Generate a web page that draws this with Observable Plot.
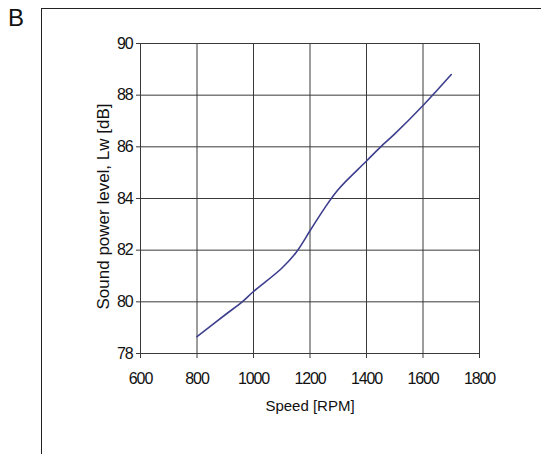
<!DOCTYPE html>
<html>
<head>
<meta charset="utf-8">
<script src="https://cdn.jsdelivr.net/npm/d3@7"></script>
<script src="https://cdn.jsdelivr.net/npm/@observablehq/plot@0.6"></script>
<style>
  html, body { margin: 0; padding: 0; background: #fff; }
  #wrap { position: relative; width: 541px; height: 454px; overflow: hidden; background: #fff; }
  #panel { position: absolute; left: 8px; top: 4px; font-family: "Liberation Sans", Arial, sans-serif; font-size: 24px; color: #111; }
  #box { position: absolute; left: 41px; top: 8px; right: -5px; bottom: -5px; border-top: 1.5px solid #222; border-left: 1.5px solid #222; }
  #chart { position: absolute; left: 0; top: 0; }
</style>
</head>
<body>
<div id="wrap">
  <div id="box"></div>
  <div id="panel">B</div>
  <div id="chart"></div>
</div>
<script>
const speedRPM = [800, 900, 960, 1000, 1100, 1150, 1200, 1250, 1300, 1400, 1450, 1500, 1600, 1700];
const soundLw  = [78.65, 79.5, 80.0, 80.4, 81.3, 81.9, 82.75, 83.6, 84.35, 85.45, 86.0, 86.5, 87.6, 88.8];
const xTicks = [600, 800, 1000, 1200, 1400, 1600, 1800];
const yTicks = [78, 80, 82, 84, 86, 88, 90];
const xTitle = "Speed [RPM]";
const yTitle = "Sound power level, Lw [dB]";

const data = speedRPM.map((s, i) => ({speed: s, lw: soundLw[i]}));

const chart = Plot.plot({
  width: 541,
  height: 454,
  marginLeft: 140,
  marginRight: 62,
  marginTop: 43,
  marginBottom: 101,
  style: {fontFamily: "'Liberation Sans', Arial, sans-serif", fontSize: "16px", color: "#111", background: "transparent"},
  x: {domain: [600, 1800]},
  y: {domain: [78, 90]},
  marks: [
    Plot.gridX(xTicks, {stroke: "#3a3a3a", strokeOpacity: 1}),
    Plot.gridY(yTicks, {stroke: "#3a3a3a", strokeOpacity: 1}),
    Plot.frame({stroke: "#3a3a3a"}),
    Plot.axisX(xTicks, {tickSize: 5, tickPadding: 14, label: null, stroke: "#3a3a3a", fill: "#111", tickFormat: d => String(d)}),
    Plot.axisY(yTicks, {tickSize: 4, tickPadding: 4, label: null, stroke: "#3a3a3a", fill: "#111", tickFormat: d => String(d)}),
    Plot.line(data, {x: "speed", y: "lw", stroke: "#3d3f8e", strokeWidth: 1.6, curve: "catmull-rom"}),
    Plot.text([xTitle], {frameAnchor: "bottom", dy: 57, fontSize: 15, fill: "#111", textAnchor: "middle"}),
    Plot.text([yTitle], {frameAnchor: "left", dx: -37, dy: 8, rotate: -90, fontSize: 17, fill: "#111", textAnchor: "middle"})
  ]
});
d3.select(chart).selectAll('g[aria-label="x-axis tick label"] text, g[aria-label="y-axis tick label"] text')
  .style("letter-spacing", "-1.1px");
document.getElementById("chart").appendChild(chart);
</script>
</body>
</html>
